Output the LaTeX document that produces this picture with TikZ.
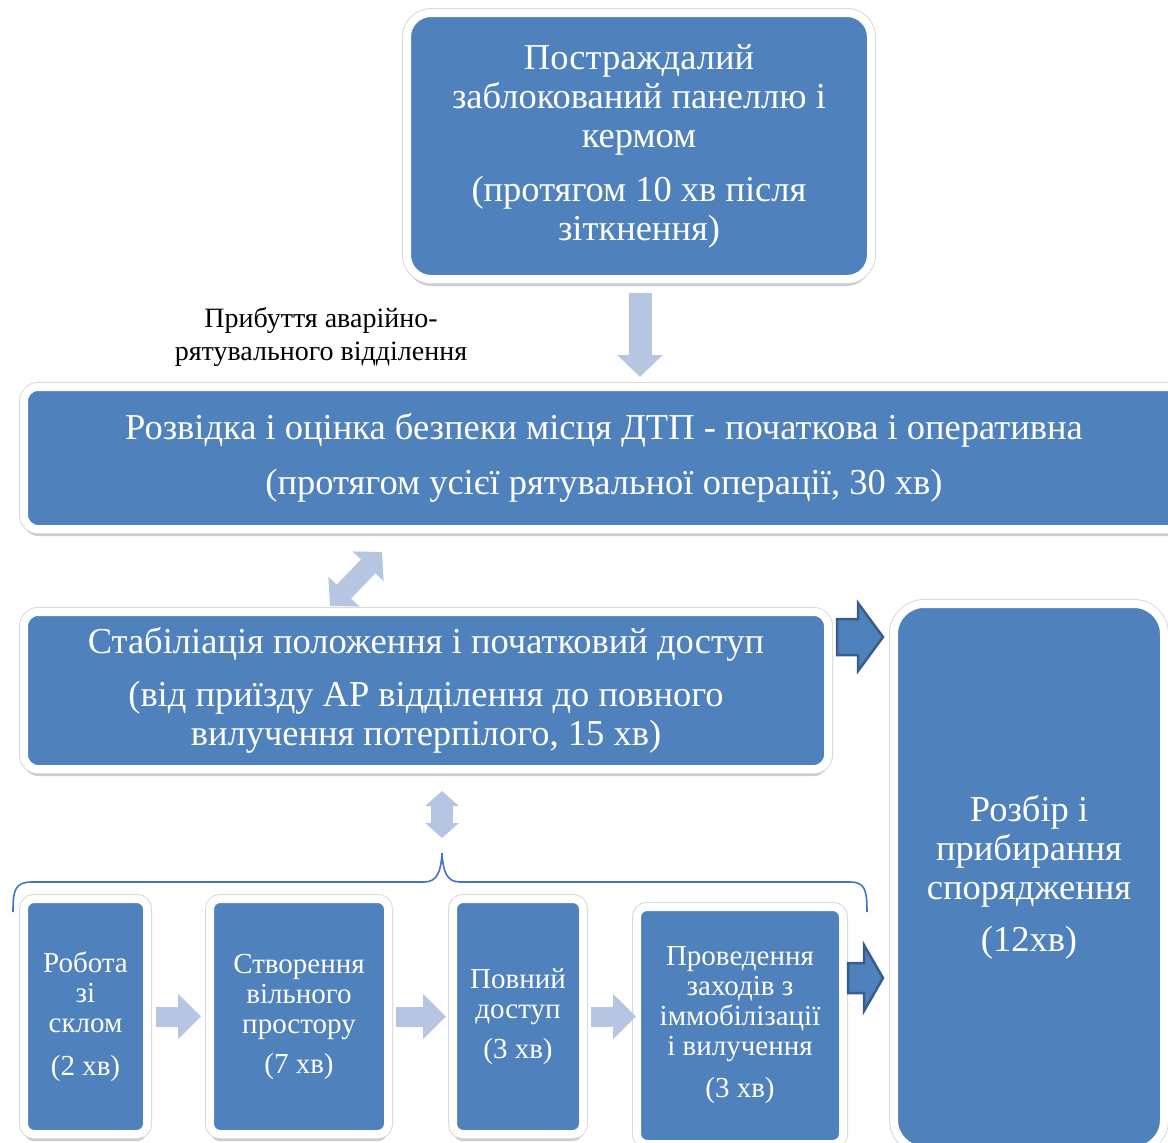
\documentclass[tikz,border=0pt]{standalone}
\usepackage{fontspec}
\setmainfont{Liberation Serif}
\usetikzlibrary{arrows.meta, calc, shadows}
\definecolor{boxblue}{RGB}{79,129,189}
\definecolor{arrowlight}{RGB}{182,198,226}
\definecolor{arrowdark}{RGB}{56,93,138}
\definecolor{bracecol}{RGB}{68,114,196}
\tikzset{
    card/.style={fill=boxblue, draw=white, line width=8pt, text=white, align=center, inner sep=0pt,
        drop shadow={shadow xshift=0pt, shadow yshift=-7pt, opacity=0.2, fill=black},
        preaction={draw=black!15, line width=10pt}},
    bigtext/.style={font=\fontsize{36.5}{39}\selectfont},
    smalltext/.style={font=\fontsize{29}{30}\selectfont},
    lightarrow/.style={draw=arrowlight, line width=#1, line cap=butt},
    bluearrow/.style={fill=boxblue, draw=arrowdark, line width=2.5pt, line join=miter},
    brace/.style={draw=bracecol, line width=1.6pt}
}

\begin{document}
\begin{tikzpicture}[x=1pt, y=-1pt]
    \useasboundingbox (0,0) rectangle (1168,1143);
    \clip (0,0) rectangle (1168,1143);

    % blocks
    \node[card, bigtext, rounded corners=24pt, minimum width=464pt, minimum height=266pt] (top) at (639,146)
        {Постраждалий\\ заблокований панеллю і\\ кермом\\[15pt] (протягом 10 хв після\\ зіткнення)};
    \node[card, bigtext, rounded corners=14pt, minimum width=1160pt, minimum height=142pt] (wide) at (604,458)
        {Розвідка і оцінка безпеки місця ДТП - початкова і оперативна\\[16pt] (протягом усієї рятувальної операції, 30 хв)};
    \node[card, bigtext, rounded corners=14pt, minimum width=804pt, minimum height=157pt] (stab) at (426,690.5)
        {Стабіліація положення і початковий доступ\\[14pt] (від приїзду АР відділення до повного\\ вилучення потерпілого, 15 хв)};
    \node[card, bigtext, rounded corners=30pt, minimum width=270pt, minimum height=546pt] (final) at (1029,877)
        {Розбір і\\ прибирання\\ спорядження\\[13pt] (12хв)};

    \node[card, smalltext, rounded corners=10pt, minimum width=123pt, minimum height=235pt] (glass) at (85.5,1016.5)
        {Робота\\ зі\\ склом\\[13pt] (2 хв)};
    \node[card, smalltext, rounded corners=10pt, minimum width=178pt, minimum height=235pt] (space) at (299,1016.5)
        {Створення\\ вільного\\ простору\\[10pt] (7 хв)};
    \node[card, smalltext, rounded corners=10pt, minimum width=130pt, minimum height=235pt] (access) at (518,1016.5)
        {Повний\\ доступ\\[10pt] (3 хв)};
    \node[card, smalltext, rounded corners=10pt, minimum width=206pt, minimum height=237pt] (extract) at (740,1025.5)
        {Проведення\\ заходів з\\ іммобілізації\\ і вилучення\\[12pt] (3 хв)};

    \node[font=\fontsize{28}{33}\selectfont, align=center] (arrival) at (321,337)
        {Прибуття аварійно-\\ рятувального відділення};

    % brace over the small blocks
    \coordinate (bracetip) at (442,853);
    \draw[brace] (13,912) .. controls (13,890) and (15,882) .. (32,882) -- (424,882)
        .. controls (437,882) and (441,872) .. (bracetip)
        .. controls (443,872) and (447,882) .. (460,882) -- (850,882)
        .. controls (865,882) and (867,890) .. (867,912);

    % connectors
    \draw[lightarrow=23pt, -{Triangle[width=44pt,length=22pt]}, shorten <=10pt, shorten >=6pt]
        (top.south -| 640,0) -- (wide.north -| 640,0);
    \coordinate (diagA) at (330,606);
    \coordinate (diagB) at (382,552);
    \draw[lightarrow=20pt, {Triangle[width=42pt,length=20pt]}-{Triangle[width=42pt,length=20pt]}]
        (diagA) -- (diagB);
    \draw[lightarrow=22pt, {Triangle[width=33pt,length=15pt]}-{Triangle[width=33pt,length=15pt]},
        shorten <=18pt, shorten >=15pt] (stab.south -| bracetip) -- (bracetip);
    \draw[lightarrow=20pt, -{Triangle[width=44pt,length=23pt]}, shorten <=5pt, shorten >=5pt]
        (glass.east) -- (glass.east -| space.west);
    \draw[lightarrow=20pt, -{Triangle[width=44pt,length=23pt]}, shorten <=4pt, shorten >=3pt]
        (space.east) -- (space.east -| access.west);
    \draw[lightarrow=20pt, -{Triangle[width=44pt,length=23pt]}, shorten <=4pt, shorten >=-3pt]
        (access.east) -- (access.east -| extract.west);

    % outlined arrows into the last block
    \draw[bluearrow] (837,619) -- (858,619) -- (858,603) -- (883,637) -- (858,671) -- (858,655) -- (837,655) -- cycle;
    \draw[bluearrow] (848,963) -- (864,963) -- (864,945) -- (883,978) -- (864,1011) -- (864,993) -- (848,993) -- cycle;
\end{tikzpicture}
\end{document}
